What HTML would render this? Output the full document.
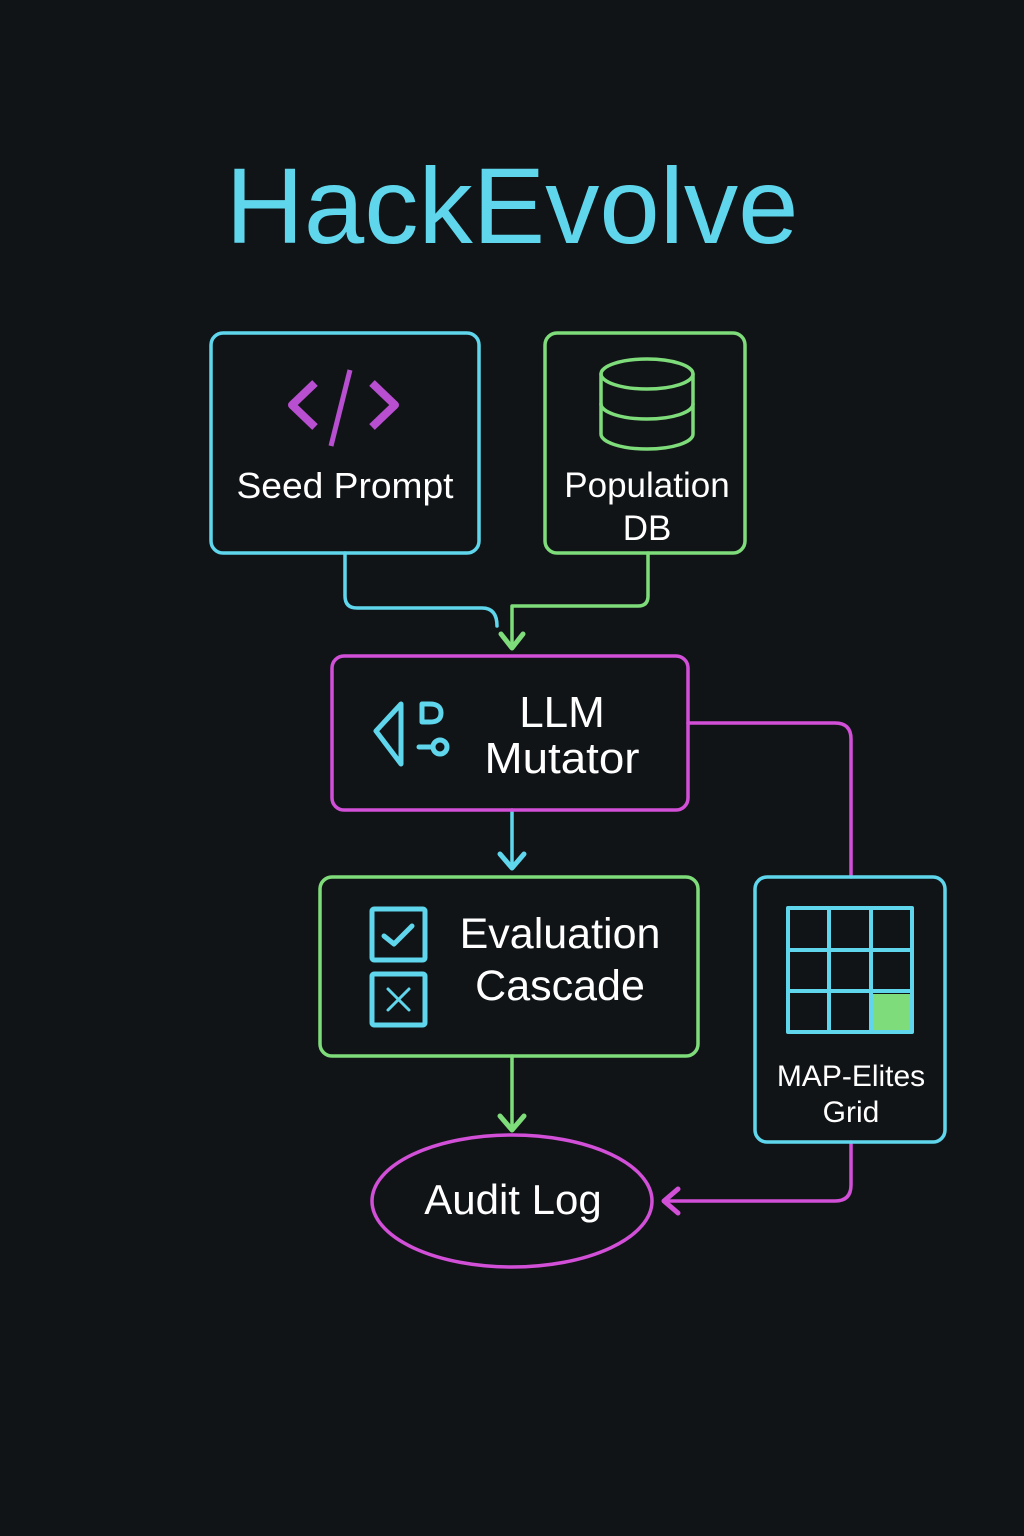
<!DOCTYPE html>
<html><head><meta charset="utf-8"><style>html,body{margin:0;padding:0;background:#111417}svg{display:block}</style></head>
<body>
<svg width="1024" height="1536" viewBox="0 0 1024 1536" xmlns="http://www.w3.org/2000/svg" font-family="Liberation Sans, sans-serif">
<rect width="1024" height="1536" fill="#111417"/>
<text x="512" y="243" font-size="108" fill="#5fd6ec" text-anchor="middle" textLength="573" lengthAdjust="spacingAndGlyphs">HackEvolve</text>
<g fill="none" stroke-width="3.5" stroke-linecap="round" stroke-linejoin="round">
<path d="M345 553 V596 Q345 608 357 608 H482 Q497 608 497 626" stroke="#5fd6ec"/>
<path d="M648 553 V596 Q648 606 638 606 H512 V648" stroke="#7fdc7a"/>
<path d="M501 634 L512 648 L523 634" stroke="#7fdc7a" stroke-width="5"/>
<path d="M688 723 H835 Q851 723 851 739 V877" stroke="#d24fd8"/>
<path d="M512 810 V868" stroke="#5fd6ec"/>
<path d="M500 854 L512 868 L524 854" stroke="#5fd6ec" stroke-width="5"/>
<path d="M512 1056 V1130" stroke="#7fdc7a"/>
<path d="M500 1116 L512 1130 L524 1116" stroke="#7fdc7a" stroke-width="5"/>
<path d="M851 1142 V1185 Q851 1201 835 1201 H664" stroke="#d24fd8"/>
<path d="M678 1189 L664 1201 L678 1213" stroke="#d24fd8" stroke-width="5"/>
<rect x="211" y="333" width="268" height="220" rx="12" stroke="#5fd6ec"/>
<rect x="545" y="333" width="200" height="220" rx="12" stroke="#7fdc7a"/>
<rect x="332" y="656" width="356" height="154" rx="12" stroke="#d24fd8"/>
<rect x="320" y="877" width="378" height="179" rx="12" stroke="#7fdc7a"/>
<rect x="755" y="877" width="190" height="265" rx="12" stroke="#5fd6ec"/>
<ellipse cx="512" cy="1201" rx="140" ry="66" stroke="#d24fd8"/>
<path d="M315 383 L292 405 L315 427" stroke="#b84fd0" stroke-width="8" stroke-linecap="butt"/>
<path d="M372 383 L395 405 L372 427" stroke="#b84fd0" stroke-width="8" stroke-linecap="butt"/>
<path d="M350 370 L331 446" stroke="#b84fd0" stroke-width="5" stroke-linecap="butt"/>
<g stroke="#7fdc7a">
<ellipse cx="647" cy="374" rx="46" ry="15"/>
<path d="M601 374 V434 A46 15 0 0 0 693 434 V374"/>
<path d="M601 404 A46 15 0 0 0 693 404"/>
</g>
<g stroke="#5fd6ec" stroke-width="5">
<path d="M401 704 L376 731 L401 764 Z"/>
<path d="M422 704 H430 Q441 704 441 713 Q441 722 430 722 H422 Z"/>
<path d="M419 747 H432"/>
<circle cx="440" cy="747" r="7"/>
</g>
<g stroke="#5fd6ec" stroke-width="5">
<rect x="372" y="909" width="53" height="51" rx="2"/>
<path d="M384 936 L394 944 L412 926"/>
<rect x="372" y="974" width="53" height="51" rx="2"/>
<path d="M388 989 L409 1010 M409 989 L388 1010" stroke-width="3"/>
</g>
<rect x="872" y="994" width="40" height="38" fill="#7fdc7a" stroke="none"/>
<g stroke="#5fd6ec" stroke-width="4">
<rect x="788" y="908" width="124" height="124"/>
<path d="M829 908 V1032 M871 908 V1032 M788 950 H912 M788 991 H912"/>
</g>
</g>
<g fill="#ffffff" text-anchor="middle">
<text x="345" y="498" font-size="36" textLength="217" lengthAdjust="spacingAndGlyphs">Seed Prompt</text>
<text x="647" y="497" font-size="35">Population</text>
<text x="647" y="540" font-size="35">DB</text>
<text x="562" y="727" font-size="44">LLM</text>
<text x="562" y="773" font-size="44" textLength="155" lengthAdjust="spacingAndGlyphs">Mutator</text>
<text x="560" y="948" font-size="43">Evaluation</text>
<text x="560" y="1000" font-size="43">Cascade</text>
<text x="851" y="1086" font-size="30">MAP-Elites</text>
<text x="851" y="1122" font-size="30">Grid</text>
<text x="513" y="1214" font-size="42">Audit Log</text>
</g>
</svg>
</body></html>
